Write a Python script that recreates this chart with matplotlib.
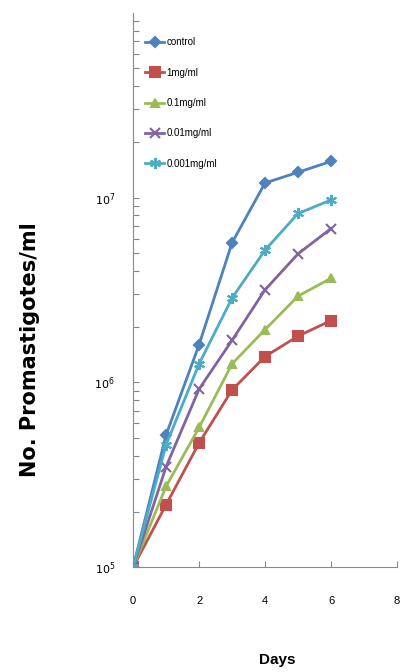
import matplotlib
matplotlib.use("Agg")
from matplotlib import pyplot as plt
from matplotlib.ticker import LogLocator, FixedLocator, NullFormatter

# 배양 일수
days = [0, 1, 2, 3, 4, 5, 6]

# 각 농도별 promastigote 수
control = [1.0e5, 5.2e5, 1.6e6, 5.7e6, 1.2e7, 1.37e7, 1.57e7]
conc_1 = [1.0e5, 2.18e5, 4.7e5, 9.1e5, 1.38e6, 1.78e6, 2.16e6]
conc_01 = [1.0e5, 2.74e5, 5.7e5, 1.26e6, 1.93e6, 2.93e6, 3.66e6]
conc_001 = [1.0e5, 3.5e5, 9.2e5, 1.69e6, 3.17e6, 4.96e6, 6.8e6]
conc_0001 = [1.0e5, 4.6e5, 1.26e6, 2.86e6, 5.2e6, 8.2e6, 9.7e6]

labels = ["control", "1mg/ml", "0.1mg/ml", "0.01mg/ml", "0.001mg/ml"]
y_ticks = [1e5, 1e6, 1e7]
y_tick_labels = ["$10^5$", "$10^6$", "$10^7$"]
x_ticks = [0, 2, 4, 6, 8]

series = [control, conc_1, conc_01, conc_001, conc_0001]
colors = ["#4F81BD", "#C0504D", "#9BBB59", "#8064A2", "#4BACC6"]
markers = ["D", "s", "^", "x", (6, 2, 0)]
msizes = [5, 7, 6, 7, 8]

plt.rcParams['font.family'] = ['Liberation Sans Narrow', 'Liberation Sans', 'DejaVu Sans']

fig = plt.figure(figsize=(4.01, 6.72), dpi=100)
ax = fig.add_axes([0.332, 0.156, 0.658, 0.825])

for vals, col, mk, ms, lab in zip(series, colors, markers, msizes, labels):
    ax.plot(days, vals, color=col, marker=mk, markersize=ms, linewidth=2.0,
            markeredgewidth=1.5, label=lab)

ax.set_yscale("log")
ax.set_ylim(1e5, 1e8)
ax.set_xlim(0, 8)

ax.yaxis.set_major_locator(FixedLocator(y_ticks))
ax.set_yticklabels(y_tick_labels, fontsize=8)
ax.yaxis.set_minor_locator(LogLocator(base=10, subs=range(2, 10)))
ax.yaxis.set_minor_formatter(NullFormatter())
ax.set_xticks(x_ticks)
ax.set_xticklabels([str(t) for t in x_ticks], fontsize=8)

ax.tick_params(axis="y", which="both", direction="in", length=4, width=0.8,
               color="#888888", pad=13)
ax.tick_params(axis="x", which="both", direction="in", length=4, width=0.8,
               color="#888888", pad=21)

for side in ["top", "right"]:
    ax.spines[side].set_visible(False)
for side in ["left", "bottom"]:
    ax.spines[side].set_color("#888888")
    ax.spines[side].set_linewidth(0.8)

ax.legend(loc="upper left", bbox_to_anchor=(0.045, 0.956), frameon=False,
          borderpad=0, borderaxespad=0, fontsize=7, labelspacing=2.1,
          handlelength=2.0, handletextpad=0.2)

fig.text(30 / 401, 1 - 350 / 672, "No. Promastigotes/ml", rotation=90,
         ha="center", va="center", fontsize=15, fontweight="heavy",
         family=["DejaVu Sans"])
fig.text(277 / 401, 1 - 660 / 672, "Days", ha="center", va="center",
         fontsize=11, fontweight="bold")

plt.savefig("out.png", dpi=100)
